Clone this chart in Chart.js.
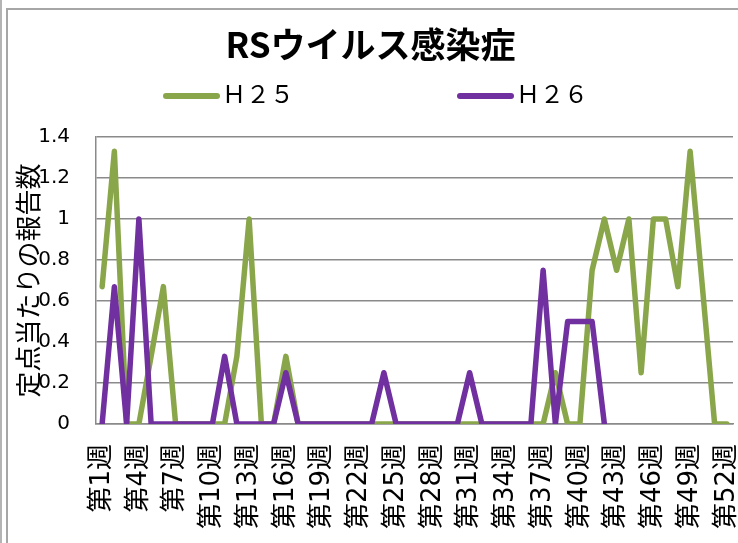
<!DOCTYPE html>
<html lang="ja">
<head>
<meta charset="utf-8">
<title>RSウイルス感染症</title>
<script src="https://cdn.jsdelivr.net/npm/chart.js@4.4.1/dist/chart.umd.min.js"></script>
<style>
  html, body { margin: 0; padding: 0; background: #fff; overflow: hidden; }
  #wrap { position: relative; width: 738px; height: 543px; }
  .frame-outer { position: absolute; left: 0; top: 0; bottom: 0; border-left: 2px solid #b4b4b4; }
  .frame-inner { position: absolute; left: 6px; top: 8px; right: -10px; bottom: -10px;
                 border-left: 2px solid #a6a6a6; border-top: 2px solid #a6a6a6; }
  canvas { position: absolute; left: 0; top: 0; }
</style>
</head>
<body>
<div id="wrap">
  <div class="frame-outer"></div>
  <div class="frame-inner"></div>
  <canvas id="chart" width="738" height="543"></canvas>
</div>
<script>
// Chart text
const CHART_TITLE = "RSウイルス感染症";
const Y_TITLE = "定点当たりの報告数";

// Weeks on the x axis (every third one gets a label)
const WEEKS = [
  "第1週", "第2週", "第3週", "第4週", "第5週", "第6週", "第7週", "第8週", "第9週", "第10週",
  "第11週", "第12週", "第13週", "第14週", "第15週", "第16週", "第17週", "第18週", "第19週", "第20週",
  "第21週", "第22週", "第23週", "第24週", "第25週", "第26週", "第27週", "第28週", "第29週", "第30週",
  "第31週", "第32週", "第33週", "第34週", "第35週", "第36週", "第37週", "第38週", "第39週", "第40週",
  "第41週", "第42週", "第43週", "第44週", "第45週", "第46週", "第47週", "第48週", "第49週", "第50週",
  "第51週", "第52週",
];
const LABEL_EVERY = 3;

// Reports per sentinel site
const H25 = [
  0.67, 1.33, 0, 0, 0.33, 0.67, 0, 0, 0, 0,
  0, 0.33, 1, 0, 0, 0.33, 0, 0, 0, 0,
  0, 0, 0, 0, 0, 0, 0, 0, 0, 0,
  0, 0, 0, 0, 0, 0, 0, 0.25, 0, 0,
  0.75, 1, 0.75, 1, 0.25, 1, 1, 0.67, 1.33, 0.67,
  0, 0,
];
const H26 = [
  0, 0.67, 0, 1, 0, 0, 0, 0, 0, 0,
  0.33, 0, 0, 0, 0, 0.25, 0, 0, 0, 0,
  0, 0, 0, 0.25, 0, 0, 0, 0, 0, 0,
  0.25, 0, 0, 0, 0, 0, 0.75, 0, 0.5, 0.5,
  0.5, 0, null, null, null, null, null, null, null, null,
  null, null,
];

// Y axis range
const Y_MIN = 0;
const Y_MAX = 1.4;
const Y_STEP = 0.2;

const GREEN = "#8aa64a";
const PURPLE = "#7030a0";
const GRID = "#8a8a8a";

// Legend sits between the title and the plot, laid out like the Excel original
const LEGEND_X = [163, 457];
const LEGEND_Y = 96;

const legendLines = {
  id: "legendLines",
  afterDraw(chart) {
    const { ctx } = chart;
    ctx.save();
    chart.data.datasets.forEach((ds, i) => {
      const x = LEGEND_X[i];
      ctx.strokeStyle = ds.borderColor;
      ctx.lineWidth = 6;
      ctx.lineCap = "round";
      ctx.beginPath();
      ctx.moveTo(x + 3, LEGEND_Y);
      ctx.lineTo(x + 54, LEGEND_Y);
      ctx.stroke();
      ctx.fillStyle = "#000";
      ctx.font = '24px "Noto Sans CJK JP"';
      ctx.textBaseline = "middle";
      ctx.fillText(ds.legendText, x + 59, LEGEND_Y - 2);
    });
    ctx.restore();
  },
};

new Chart(document.getElementById("chart"), {
  type: "line",
  data: {
    labels: WEEKS,
    datasets: [
      {
        label: "H25",
        legendText: "Ｈ２５",
        data: H25,
        borderColor: GREEN,
        borderWidth: 5.5,
        order: 1,
      },
      {
        label: "H26",
        legendText: "Ｈ２６",
        data: H26,
        borderColor: PURPLE,
        borderWidth: 5.5,
        order: 0,
      },
    ],
  },
  options: {
    responsive: false,
    animation: false,
    layout: { padding: { left: 8, right: 5, top: 0, bottom: 0 } },
    elements: {
      line: { tension: 0, fill: false, borderJoinStyle: "round", borderCapStyle: "round" },
      point: { radius: 0, hoverRadius: 0 },
    },
    plugins: {
      legend: { display: false },
      tooltip: { enabled: false },
      title: {
        display: true,
        text: CHART_TITLE,
        color: "#000",
        font: { family: '"Noto Sans CJK JP"', size: 35, weight: "bold" },
        padding: { top: 24, bottom: 71 },
      },
    },
    scales: {
      x: {
        offset: true,
        grid: { display: true, drawOnChartArea: false, drawTicks: false },
        border: { display: true, color: GRID, width: 1.5 },
        ticks: {
          autoSkip: false,
          maxRotation: 90,
          minRotation: 90,
          padding: 20,
          color: "#000",
          font: { family: '"DejaVu Sans", "Noto Sans CJK JP"', size: 26 },
          callback: (val, i) => (i % LABEL_EVERY === 0 ? WEEKS[i] : ""),
        },
        afterFit(scale) {
          scale.height = 119;
          scale.paddingLeft = 0;
          scale.paddingRight = 0;
        },
      },
      y: {
        min: Y_MIN,
        max: Y_MAX,
        grid: { color: GRID, lineWidth: 1.5, drawTicks: false },
        border: { display: true, color: GRID, width: 1.5 },
        ticks: {
          stepSize: Y_STEP,
          padding: 26,
          color: "#000",
          font: { family: '"DejaVu Sans"', size: 20 },
          // Excel style: "1" not "1.0"
          callback: (val) => String(Number(val.toFixed(1))),
        },
        title: {
          display: true,
          text: Y_TITLE,
          color: "#000",
          font: { family: '"Noto Sans CJK JP"', size: 26 },
          padding: { top: 5, bottom: 0 },
        },
        afterFit(scale) {
          scale.width = 88;
        },
      },
    },
  },
  plugins: [legendLines],
});
</script>
</body>
</html>
